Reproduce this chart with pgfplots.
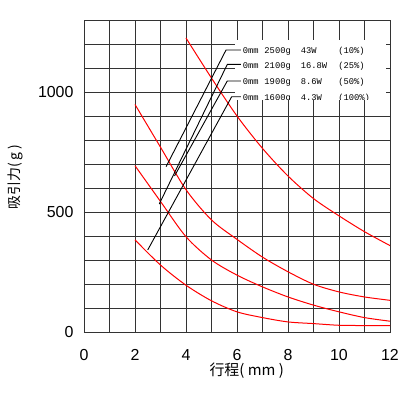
\documentclass[border=0pt]{standalone}
\usepackage{pgfplots}
\pgfplotsset{compat=1.18}
\usepackage{fontspec}
\setmainfont{Liberation Sans}
\newfontfamily\cjk{Noto Sans CJK SC}
\newfontfamily\mono{Liberation Mono}

\tikzset{note/.style={anchor=base west, inner sep=0pt, font=\mono\fontsize{8.8}{9}\selectfont}}

\begin{document}
\begin{tikzpicture}
\useasboundingbox (-84bp,-68bp) rectangle (316bp,332bp);
\begin{axis}[
  at={(0,0)}, anchor=south west,
  scale only axis, width=306bp, height=312bp,
  xmin=0, xmax=12, ymin=0, ymax=1300,
  xtick={0,2,...,12}, minor xtick={1,3,...,11},
  ytick={0,500,1000}, minor ytick={100,200,...,1200},
  grid=both,
  grid style={draw=black!80, line width=0.7bp},
  axis line style={draw=black!80, line width=0.7bp},
  major tick length=0pt, minor tick length=0pt,
  tick label style={font=\fontsize{16}{16}\selectfont},
  /pgf/number format/assume math mode=true,
  /pgf/number format/1000 sep={},
  yticklabel style={xshift=-7bp},
  xticklabel style={yshift=-14bp},
  clip=false,
]
  % white box behind the notes
  \fill[white] (axis cs:5.94,968) rectangle (axis cs:11.84,1218);

  % 10%
  \addplot[red, line width=1bp, smooth] coordinates {
    (4,1225) (5,1058) (6,900) (7,765) (8,650) (9,556) (10,484) (11,418) (12,360)
  };
  % 25%
  \addplot[red, line width=1bp, smooth] coordinates {
    (2,948) (3,770) (4,593) (5,467) (6,386) (7,312) (8,251) (9,199) (10,167) (11,146) (12,132)
  };
  % 50%
  \addplot[red, line width=1bp, smooth] coordinates {
    (2,693) (3,544) (4,397) (5,300) (6,237) (7,188) (8,146) (9,112) (10,84) (11,60) (12,45)
  };
  % 100%
  \addplot[red, line width=1bp, smooth] coordinates {
    (2,384) (3,279) (4,195) (5,130) (6,84) (7,60) (8,42) (9,35) (10,28) (11,27) (12,27)
  };

  % leaders
  \draw[black, line width=0.9bp] (axis cs:3.22,689) -- (axis cs:5.57,1175) -- (axis cs:6.15,1175);
  \draw[black, line width=0.9bp] (axis cs:2.95,533) -- (axis cs:5.62,1115) -- (axis cs:6.15,1115);
  \draw[black, line width=0.9bp] (axis cs:3.55,650) -- (axis cs:5.62,1046) -- (axis cs:6.15,1046);
  \draw[black, line width=0.9bp] (axis cs:2.50,342) -- (axis cs:5.79,980) -- (axis cs:6.15,980);

  \begin{scope}
    \clip (axis cs:5.94,970) rectangle (axis cs:11.84,1218);
    \node[note] at (axis cs:6.22,1160) {0mm};  \node[note] at (axis cs:7.07,1160) {2500g};
    \node[note] at (axis cs:8.50,1160) {43W};  \node[note] at (axis cs:9.97,1160) {(10\%)};
    \node[note] at (axis cs:6.22,1098) {0mm};  \node[note] at (axis cs:7.07,1098) {2100g};
    \node[note] at (axis cs:8.50,1098) {16.8W};\node[note] at (axis cs:9.97,1098) {(25\%)};
    \node[note] at (axis cs:6.22,1032) {0mm};  \node[note] at (axis cs:7.07,1032) {1900g};
    \node[note] at (axis cs:8.50,1032) {8.6W}; \node[note] at (axis cs:9.97,1032) {(50\%)};
    \node[note] at (axis cs:6.22,964) {0mm};   \node[note] at (axis cs:7.07,964) {1600g};
    \node[note] at (axis cs:8.50,964) {4.3W};  \node[note] at (axis cs:9.97,964) {(100\%)};
  \end{scope}
\end{axis}
\node[rotate=90, font=\cjk\fontsize{14}{14}\selectfont] at (-69bp,155bp) {吸引力( g )};
\node[font=\cjk\fontsize{15}{15}\selectfont] at (162.7bp,-39bp) {行程( mm )};
\end{tikzpicture}
\end{document}
